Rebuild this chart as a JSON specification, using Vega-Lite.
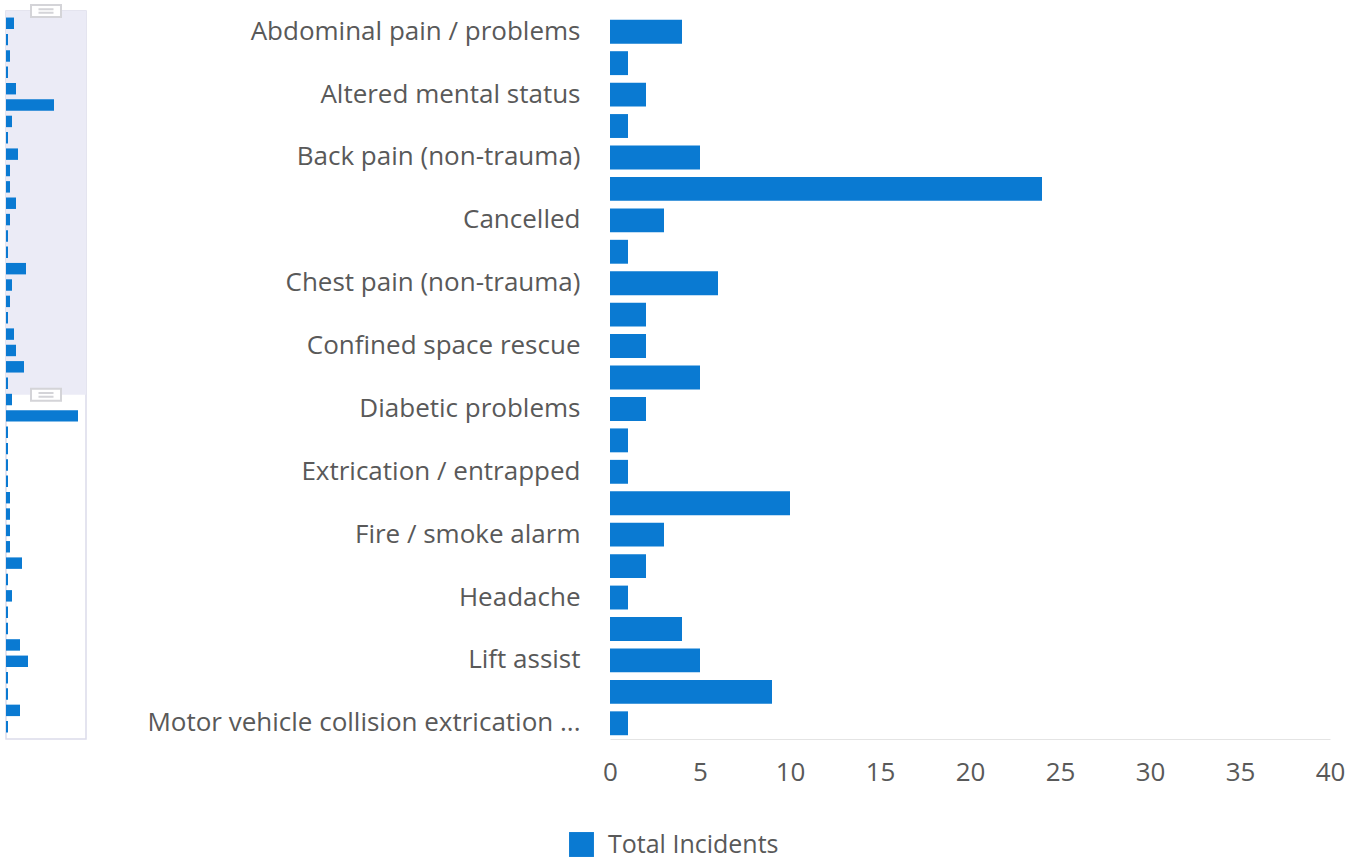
{
  "$schema": "https://vega.github.io/schema/vega-lite/v6.json",
  "background": "white",
  "padding": {"left": 5, "top": 0, "right": 10, "bottom": 0},
  "config": {"font": "Open Sans", "view": {"stroke": null}},
  "datasets": {
    "incidents": [
      {"row": 1, "category": "Abdominal pain / problems", "incidents": 4},
      {"row": 2, "category": "Allergic reaction", "incidents": 1},
      {"row": 3, "category": "Altered mental status", "incidents": 2},
      {"row": 4, "category": "Assault", "incidents": 1},
      {"row": 5, "category": "Back pain (non-trauma)", "incidents": 5},
      {"row": 6, "category": "Breathing problems", "incidents": 24},
      {"row": 7, "category": "Cancelled", "incidents": 3},
      {"row": 8, "category": "Cardiac arrest", "incidents": 1},
      {"row": 9, "category": "Chest pain (non-trauma)", "incidents": 6},
      {"row": 10, "category": "Choking", "incidents": 2},
      {"row": 11, "category": "Confined space rescue", "incidents": 2},
      {"row": 12, "category": "Convulsions / seizures", "incidents": 5},
      {"row": 13, "category": "Diabetic problems", "incidents": 2},
      {"row": 14, "category": "Electrical hazard", "incidents": 1},
      {"row": 15, "category": "Extrication / entrapped", "incidents": 1},
      {"row": 16, "category": "Falls", "incidents": 10},
      {"row": 17, "category": "Fire / smoke alarm", "incidents": 3},
      {"row": 18, "category": "Fuel spill", "incidents": 2},
      {"row": 19, "category": "Headache", "incidents": 1},
      {"row": 20, "category": "Heart problems", "incidents": 4},
      {"row": 21, "category": "Lift assist", "incidents": 5},
      {"row": 22, "category": "Medical alarm", "incidents": 9},
      {"row": 23, "category": "Motor vehicle collision extrication ...", "incidents": 1},
      {"row": 24, "category": "Motor vehicle collision with injuries", "incidents": 3},
      {"row": 25, "category": "Mutual aid", "incidents": 36},
      {"row": 26, "category": "Natural gas leak", "incidents": 1},
      {"row": 27, "category": "Odor investigation", "incidents": 1},
      {"row": 28, "category": "Outside fire", "incidents": 1},
      {"row": 29, "category": "Overdose / poisoning", "incidents": 1},
      {"row": 30, "category": "Pregnancy / childbirth", "incidents": 2},
      {"row": 31, "category": "Psychiatric problems", "incidents": 2},
      {"row": 32, "category": "Public assist", "incidents": 2},
      {"row": 33, "category": "Residential fire", "incidents": 2},
      {"row": 34, "category": "Sick person", "incidents": 8},
      {"row": 35, "category": "Smoke investigation", "incidents": 1},
      {"row": 36, "category": "Stroke / CVA", "incidents": 3},
      {"row": 37, "category": "Structure fire", "incidents": 1},
      {"row": 38, "category": "Traffic / transportation incident", "incidents": 1},
      {"row": 39, "category": "Traumatic injuries", "incidents": 7},
      {"row": 40, "category": "Unconscious / fainting", "incidents": 11},
      {"row": 41, "category": "Unknown problem", "incidents": 1},
      {"row": 42, "category": "Vehicle fire", "incidents": 1},
      {"row": 43, "category": "Welfare check", "incidents": 7},
      {"row": 44, "category": "Wires down", "incidents": 1}
    ],
    "window": [{"start": 0, "end": 23.2}]
  },
  "spacing": 59,
  "hconcat": [
    {
      "width": 80,
      "height": 728,
      "view": {"stroke": "#dcdcea", "strokeWidth": 1.5},
      "layer": [
        {
          "data": {"name": "window"},
          "mark": {"type": "rect", "color": "#ebebf6"},
          "encoding": {
            "y": {"field": "start", "type": "quantitative", "scale": {"domain": [0, 44], "reverse": true, "nice": false}, "axis": null},
            "y2": {"field": "end"}
          }
        },
        {
          "data": {"name": "incidents"},
          "mark": {"type": "bar", "color": "#0a7ad2"},
          "encoding": {
            "y": {"field": "category", "type": "nominal", "sort": null, "scale": {"paddingInner": 0.3, "paddingOuter": 0.4}, "axis": null},
            "x": {"field": "incidents", "type": "quantitative", "scale": {"domain": [0, 40], "nice": false}, "axis": null}
          }
        },
        {
          "data": {"name": "window"},
          "mark": {"type": "point", "shape": "M-1,-0.4H1V0.4H-1Z", "filled": true, "fill": "white", "stroke": "#d4d4d8", "strokeWidth": 2, "opacity": 1, "size": 900},
          "encoding": {
            "y": {"field": "start", "type": "quantitative", "scale": {"domain": [0, 44], "reverse": true, "nice": false}, "axis": null},
            "x": {"datum": 20, "type": "quantitative", "scale": {"domain": [0, 40], "nice": false}, "axis": null}
          }
        },
        {
          "data": {"name": "window"},
          "mark": {"type": "point", "shape": "M-1,-0.4H1V0.4H-1Z", "filled": true, "fill": "white", "stroke": "#d4d4d8", "strokeWidth": 2, "opacity": 1, "size": 900},
          "encoding": {
            "y": {"field": "end", "type": "quantitative", "scale": {"domain": [0, 44], "reverse": true, "nice": false}, "axis": null},
            "x": {"datum": 20, "type": "quantitative", "scale": {"domain": [0, 40], "nice": false}, "axis": null}
          }
        },
        {
          "data": {"name": "window"},
          "mark": {"type": "point", "shape": "M-0.5,-0.12H0.5M-0.5,0.12H0.5", "stroke": "#d4d4d8", "strokeWidth": 2, "opacity": 1, "size": 900},
          "encoding": {
            "y": {"field": "start", "type": "quantitative", "scale": {"domain": [0, 44], "reverse": true, "nice": false}, "axis": null},
            "x": {"datum": 20, "type": "quantitative", "scale": {"domain": [0, 40], "nice": false}, "axis": null}
          }
        },
        {
          "data": {"name": "window"},
          "mark": {"type": "point", "shape": "M-0.5,-0.12H0.5M-0.5,0.12H0.5", "stroke": "#d4d4d8", "strokeWidth": 2, "opacity": 1, "size": 900},
          "encoding": {
            "y": {"field": "end", "type": "quantitative", "scale": {"domain": [0, 44], "reverse": true, "nice": false}, "axis": null},
            "x": {"datum": 20, "type": "quantitative", "scale": {"domain": [0, 40], "nice": false}, "axis": null}
          }
        }
      ],
      "resolve": {"scale": {"y": "independent"}}
    },
    {
      "width": 720,
      "height": 728,
      "data": {"name": "incidents"},
      "transform": [{"filter": {"field": "row", "lte": 23}}],
      "mark": {"type": "bar"},
      "encoding": {
        "y": {
          "field": "category", "type": "nominal", "sort": null,
          "scale": {"range": [5, 728], "paddingInner": 0.24, "paddingOuter": 0.12},
          "axis": {
            "title": null, "ticks": false, "domain": false, "labelFontSize": 26, "labelColor": "#595959", "labelPadding": 30, "labelLimit": 600,
            "values": ["Abdominal pain / problems", "Altered mental status", "Back pain (non-trauma)", "Cancelled", "Chest pain (non-trauma)", "Confined space rescue", "Diabetic problems", "Extrication / entrapped", "Fire / smoke alarm", "Headache", "Lift assist", "Motor vehicle collision extrication ..."]
          }
        },
        "x": {
          "field": "incidents", "type": "quantitative",
          "scale": {"domain": [0, 40], "nice": false},
          "axis": {"title": null, "grid": false, "ticks": false, "domainColor": "#e4e4e4", "labelFontSize": 26, "labelColor": "#595959", "labelPadding": 20, "labelFlush": false, "values": [0, 5, 10, 15, 20, 25, 30, 35, 40]}
        },
        "color": {
          "datum": "Total Incidents",
          "scale": {"range": ["#0a7ad2"]},
          "legend": {"title": null, "orient": "none", "legendX": 563, "legendY": 821, "direction": "horizontal", "symbolType": "square", "symbolSize": 620, "symbolStrokeWidth": 0, "labelFontSize": 25, "labelColor": "#595959", "labelOffset": 14, "labelLimit": 400}
        }
      }
    }
  ]
}
